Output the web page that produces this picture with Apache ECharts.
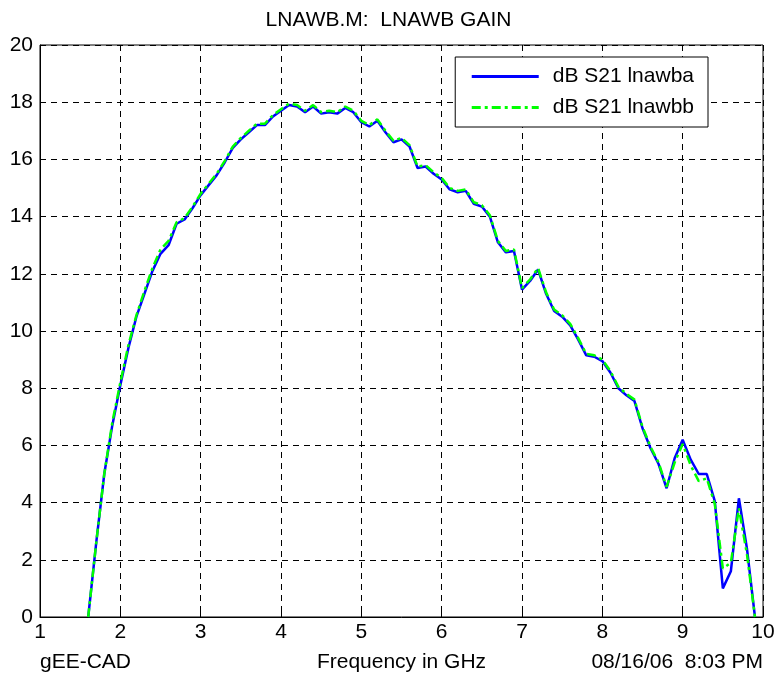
<!DOCTYPE html>
<html>
<head>
<meta charset="utf-8">
<script src="https://cdn.jsdelivr.net/npm/echarts@6/dist/echarts.min.js"></script>
<style>html,body{margin:0;padding:0;background:#fff;}#c{width:777px;height:675px;}</style>
</head>
<body>
<div id="c"></div>
<script>
const freq = [1.6,1.7,1.8,1.9,2.0,2.1,2.2,2.3,2.4,2.5,2.6,2.7,2.8,2.9,3.0,3.1,3.2,3.3,3.4,3.5,3.6,3.7,3.8,3.9,4.0,4.1,4.2,4.3,4.4,4.5,4.6,4.7,4.8,4.9,5.0,5.1,5.2,5.3,5.4,5.5,5.6,5.7,5.8,5.9,6.0,6.1,6.2,6.3,6.4,6.5,6.6,6.7,6.8,6.9,7.0,7.1,7.2,7.3,7.4,7.5,7.6,7.7,7.8,7.9,8.0,8.1,8.2,8.3,8.4,8.5,8.6,8.7,8.8,8.9,9.0,9.1,9.2,9.3,9.4,9.5,9.6,9.7,9.8,9.9];
const s21a = [0,2.6,5.0,6.7,8.1,9.4,10.5,11.3,12.1,12.7,13.0,13.75,13.9,14.3,14.75,15.1,15.45,15.9,16.4,16.7,16.95,17.2,17.2,17.5,17.7,17.9,17.85,17.65,17.85,17.6,17.65,17.6,17.8,17.65,17.3,17.15,17.35,16.95,16.6,16.7,16.45,15.7,15.75,15.5,15.3,14.95,14.85,14.9,14.45,14.35,14.0,13.1,12.75,12.8,11.45,11.75,12.15,11.3,10.7,10.5,10.2,9.7,9.15,9.1,8.95,8.55,8.0,7.75,7.55,6.6,5.9,5.35,4.5,5.55,6.2,5.5,5.0,5.0,4.05,1.0,1.6,4.15,2.4,0];
const s21b = [0,2.6,5.0,6.8,8.2,9.5,10.55,11.4,12.2,12.85,13.15,13.8,13.95,14.35,14.8,15.15,15.5,15.95,16.45,16.75,17.0,17.25,17.25,17.55,17.75,17.95,17.9,17.7,17.9,17.65,17.7,17.65,17.85,17.7,17.35,17.2,17.4,17.0,16.65,16.75,16.5,15.75,15.8,15.55,15.35,15.0,14.9,14.95,14.5,14.4,14.05,13.15,12.8,12.85,11.5,11.8,12.2,11.35,10.75,10.55,10.25,9.75,9.2,9.15,9.0,8.6,8.05,7.8,7.6,6.65,5.95,5.4,4.55,5.4,6.05,5.3,4.75,4.85,3.95,1.7,1.9,3.8,2.2,0];
const xTicks = [1,2,3,4,5,6,7,8,9,10];
const yTicks = [0,2,4,6,8,10,12,14,16,18,20];
const seriesNames = ['dB S21 lnawba','dB S21 lnawbb'];
const titleText = 'LNAWB.M:  LNAWB GAIN';
const xName = 'Frequency in GHz';
const leftNote = 'gEE-CAD';
const rightNote = '08/16/06  8:03 PM';

const chart = echarts.init(document.getElementById('c'), null, {renderer:'canvas'});
const font = 'Liberation Sans, Arial, sans-serif';
const fs = 21;
const gridLine = {show:true, lineStyle:{color:'#000', width:1, type:[6,5]}};
chart.setOption({
  animation:false,
  backgroundColor:'#fff',
  title:{text:titleText, left:'center', top:10, padding:0, textStyle:{fontFamily:font, fontSize:fs, fontWeight:'normal', color:'#000'}},
  grid:{left:40, right:14, top:45, bottom:58, outerBoundsMode:'none', containLabel:false, show:true, borderColor:'#000', borderWidth:1, backgroundColor:'transparent'},
  xAxis:{type:'value', min:xTicks[0], max:xTicks[xTicks.length-1], interval:1,
    axisLine:{show:true, lineStyle:{color:'#000', width:1}},
    axisTick:{show:true, inside:true, length:5, lineStyle:{color:'#000'}},
    axisLabel:{color:'#000', fontFamily:font, fontSize:fs, margin:5},
    splitLine:gridLine,
    name:xName, nameLocation:'middle', nameGap:35, nameTextStyle:{color:'#000', fontFamily:font, fontSize:fs}},
  yAxis:{type:'value', min:yTicks[0], max:yTicks[yTicks.length-1], interval:2,
    axisLine:{show:true, lineStyle:{color:'#000', width:1}},
    axisTick:{show:true, inside:true, length:5, lineStyle:{color:'#000'}},
    axisLabel:{color:'#000', fontFamily:font, fontSize:fs, margin:7},
    splitLine:gridLine},
  legend:{orient:'vertical', right:69, top:57, itemWidth:67, itemHeight:14, itemGap:10,
    padding:[9,14,9,15], borderColor:'#000', borderWidth:1, backgroundColor:'#fff',
    itemStyle:{opacity:0}, lineStyle:{width:3},
    textStyle:{color:'#000', fontFamily:font, fontSize:fs, padding:[0,0,0,9]},
    data:seriesNames},
  graphic:[
    {type:'text', left:40, top:652, style:{text:leftNote, fill:'#000', font:fs+'px '+font}},
    {type:'text', right:14, top:652, style:{text:rightNote, fill:'#000', font:fs+'px '+font}}
  ],
  series:[
    {name:seriesNames[0], type:'line', data:freq.map((f,i)=>[f,s21a[i]]), showSymbol:false, symbol:'none',
      lineStyle:{color:'#0000ff', width:2.5}, itemStyle:{color:'#0000ff'}},
    {name:seriesNames[1], type:'line', data:freq.map((f,i)=>[f,s21b[i]]), showSymbol:false, symbol:'none',
      lineStyle:{color:'#00ff00', width:2.5, type:[9,4,3,4]}, itemStyle:{color:'#00ff00'}}
  ]
});
</script>
</body>
</html>
